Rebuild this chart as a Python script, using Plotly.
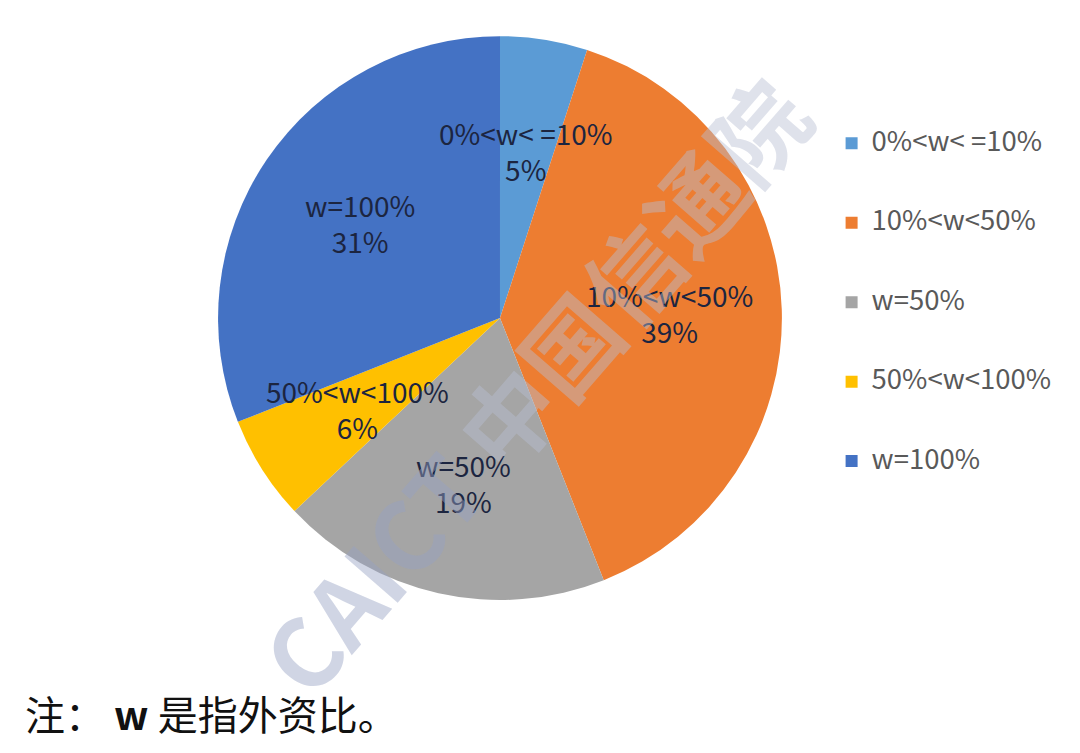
import math
import plotly.graph_objects as go

categories = ["0%<w< =10%", "10%<w<50%", "w=50%", "50%<w<100%", "w=100%"]
shares = [5, 39, 19, 6, 31]
colors = ["#5B9BD5", "#ED7D31", "#A5A5A5", "#FFC000", "#4472C4"]
note = "注：<b> w </b>是指外资比。"
watermark_latin = "CAICT"
watermark_cjk = "中国信通院"

W, H = 1080, 753
dom_x = [0.2019, 0.724]
dom_y = [0.2032, 0.952]
R_px = min((dom_x[1] - dom_x[0]) * W, (dom_y[1] - dom_y[0]) * H) / 2
cx = sum(dom_x) / 2
cy = sum(dom_y) / 2

# legend entries padded vertically (spacing like the original)
legend_entries = [
    "&nbsp;<br><span style='font-size:27.5px'>" + c.replace("<", "&lt;") + "</span><br>&nbsp;"
    for c in categories
]

fig = go.Figure()
fig.add_trace(go.Pie(
    labels=legend_entries,
    values=shares,
    customdata=categories,
    sort=False,
    direction="clockwise",
    rotation=0,
    marker=dict(colors=colors, line=dict(width=0)),
    textinfo="none",
    hovertemplate="%{customdata}: %{percent:.0%}<extra></extra>",
    domain=dict(x=dom_x, y=dom_y),
))

# data labels placed on each slice's bisector
total = sum(shares)
cum = 0
for c, v in zip(categories, shares):
    mid = (cum + v / 2) / total * 2 * math.pi
    cum += v
    r = 0.6 * R_px
    fig.add_annotation(
        text=c.replace("<", "&lt;") + "<br>" + f"{round(v / total * 100)}%",
        x=cx + r * math.sin(mid) / W, y=cy + r * math.cos(mid) / H,
        xref="paper", yref="paper", showarrow=False,
        xanchor="center", yanchor="middle",
        font=dict(size=28, color="#1c2540", family="Noto Sans CJK SC"),
    )

fig.add_annotation(
    text="<b><span style='color:rgba(150,162,195,0.45)'>" + watermark_latin + "</span> "
         "<span style='color:rgba(185,190,210,0.45)'>" + watermark_cjk + "</span></b>",
    x=0.4926, y=0.49, xref="paper", yref="paper",
    showarrow=False, textangle=-49,
    font=dict(size=95, family="Noto Sans CJK SC"),
)

fig.add_annotation(
    text=note, x=0.021, y=0.053, xref="paper", yref="paper",
    xanchor="left", yanchor="middle", showarrow=False,
    font=dict(size=40, color="#111111", family="Noto Sans CJK SC"),
)

fig.update_layout(
    width=W, height=H,
    margin=dict(l=0, r=0, t=0, b=0),
    paper_bgcolor="white", plot_bgcolor="white",
    showlegend=True,
    legend=dict(
        x=0.770, y=0.869, xanchor="left", yanchor="top",
        font=dict(size=19.6, color="#595959", family="Noto Sans CJK SC"),
        itemsizing="constant",
    ),
)

fig.write_html("out.html", config={"displayModeBar": False},
               post_script="document.body.style.margin='0';")
